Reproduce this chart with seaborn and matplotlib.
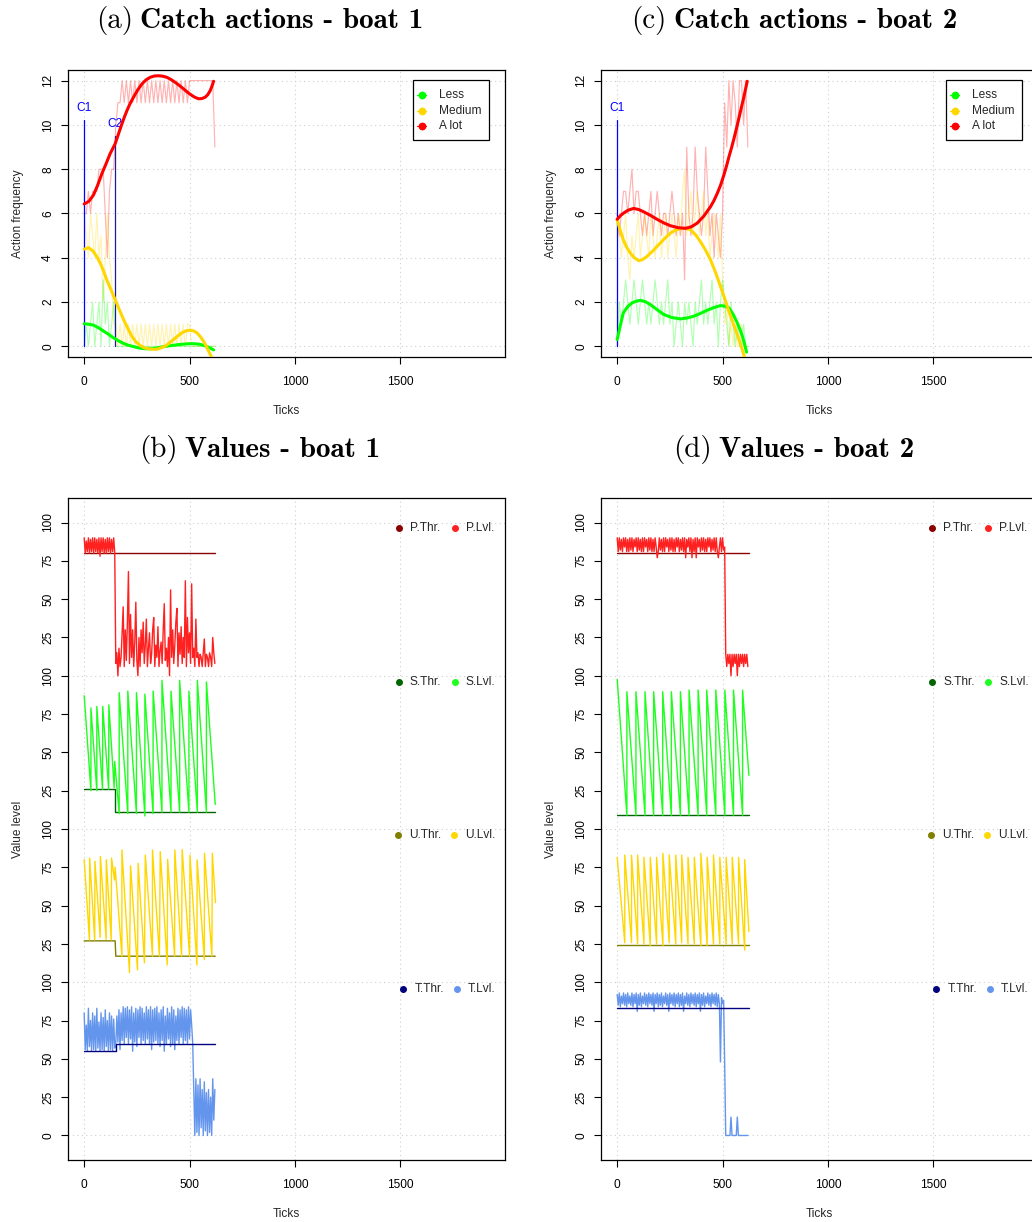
import matplotlib
matplotlib.use("Agg")
import matplotlib.pyplot as plt
from matplotlib.lines import Line2D
from matplotlib.patches import Rectangle
import numpy as np
import seaborn as sns

# ---------------------------------------------------------------- data
# raw action frequencies, sampled every 10 ticks (0 .. 620)
RAW_TICKS = list(range(0, 630, 10))

A_LESS = [0, 1, 0, 1, 2, 0, 1, 2, 0, 3, 1, 2, 0, 1, 2, 0,
          0, 0, 0, 0, 0, 0, 0, 0, 0, 0, 0, 0, 0, 0, 0, 0,
          0, 0, 0, 0, 0, 0, 0, 0, 0, 0, 0, 0, 0, 0, 0, 0,
          0, 0, 0, 0, 0, 0, 0, 0, 0, 0, 0, 0, 0, 0, 0]
A_MEDIUM = [6, 5, 4, 6, 5, 4, 6, 4, 5, 2, 4, 6, 4, 3, 1, 1,
            0, 1, 0, 1, 0, 1, 0, 1, 0, 1, 0, 1, 0, 1, 0, 1,
            0, 1, 0, 1, 0, 1, 0, 1, 0, 1, 0, 1, 0, 1, 0, 1,
            0, 1, 1, 0, 0, 0, 0, 0, 0, 0, 0, 0, 0, 0, 0]
A_ALOT = [6, 6, 7, 6, 7, 7, 7, 8, 8, 8, 6, 4, 7, 8, 8, 10,
          11, 11, 12, 11, 12, 11, 12, 11, 12, 11, 12, 11, 12, 11, 12, 11,
          12, 11, 12, 11, 12, 11, 12, 11, 12, 11, 12, 11, 12, 11, 12, 11,
          12, 11, 12, 12, 12, 12, 12, 12, 12, 12, 12, 12, 12, 12, 9]

C_LESS = [0, 2, 1, 2, 3, 2, 1, 2, 3, 2, 1, 2, 3, 2, 1, 2,
          1, 2, 3, 2, 1, 2, 1, 2, 3, 1, 2, 0, 1, 2, 1, 0,
          2, 1, 2, 1, 0, 2, 1, 2, 3, 1, 2, 1, 2, 3, 1, 2,
          0, 2, 3, 2, 1, 0, 2, 1, 0, 1, 0, 0, 1, 0, 0]
C_MEDIUM = [6, 5, 4, 5, 6, 4, 3, 5, 4, 5, 6, 4, 5, 6, 5, 4,
            6, 5, 4, 5, 6, 4, 5, 6, 4, 5, 6, 5, 4, 6, 5, 7,
            8, 5, 6, 7, 5, 6, 7, 5, 6, 7, 5, 6, 4, 5, 6, 5,
            4, 6, 3, 1, 2, 0, 1, 0, 1, 0, 0, 1, 0, 0, 0]
C_ALOT = [6, 5, 6, 7, 7, 6, 7, 8, 6, 7, 7, 6, 5, 6, 5, 6,
          7, 5, 6, 7, 6, 5, 6, 6, 5, 6, 7, 6, 5, 6, 5, 6,
          3, 9, 6, 5, 6, 9, 7, 6, 5, 6, 9, 7, 5, 6, 4, 6,
          5, 4, 6, 11, 9, 12, 10, 12, 11, 9, 12, 12, 10, 12, 9]

# smoothed trends (tick, value)
A_FIT_LESS_T = [0, 22, 44, 68, 92, 116, 139, 163, 187, 210, 234, 258, 282, 305, 329, 353,
                377, 400, 424, 448, 471, 495, 519, 535, 550, 566, 582, 598, 614]
A_FIT_LESS_V = [1.02, 1.00, 0.96, 0.84, 0.69, 0.54, 0.39, 0.25, 0.13, 0.05, -0.01, -0.07,
                -0.10, -0.11, -0.10, -0.06, -0.01, 0.02, 0.05, 0.08, 0.10, 0.12, 0.12, 0.11,
                0.09, 0.05, -0.01, -0.08, -0.16]
A_FIT_MED_T = [0, 21, 44, 60, 76, 92, 107, 127, 147, 167, 187, 207, 226, 246, 266, 285,
               305, 325, 345, 364, 384, 404, 424, 443, 463, 483, 503, 519, 535, 550, 566,
               578, 590, 606]
A_FIT_MED_V = [4.39, 4.46, 4.28, 4.05, 3.76, 3.40, 3.01, 2.56, 2.11, 1.65, 1.21, 0.81, 0.46,
               0.20, 0.04, -0.06, -0.11, -0.13, -0.13, -0.07, 0.01, 0.15, 0.31, 0.46, 0.61,
               0.70, 0.73, 0.70, 0.61, 0.45, 0.24, 0.03, -0.21, -0.51]
A_FIT_ALOT_T = [0, 22, 44, 64, 84, 104, 123, 147, 163, 179, 191, 203, 218, 234, 254, 274,
                293, 313, 333, 353, 373, 392, 412, 432, 452, 471, 491, 511, 527, 543, 558,
                574, 586, 598, 606, 614]
A_FIT_ALOT_V = [6.43, 6.55, 6.83, 7.28, 7.80, 8.25, 8.70, 9.15, 9.60, 10.05, 10.36, 10.65,
                10.97, 11.25, 11.58, 11.85, 12.03, 12.15, 12.21, 12.22, 12.20, 12.15, 12.05,
                11.92, 11.78, 11.63, 11.47, 11.33, 11.24, 11.18, 11.19, 11.25, 11.36, 11.55,
                11.74, 11.97]

C_FIT_LESS_T = [0, 15, 29, 50, 70, 90, 110, 133, 157, 189, 221, 260, 300, 331, 363, 395,
                427, 458, 490, 510, 530, 550, 570, 582, 594, 604, 614]
C_FIT_LESS_V = [0.31, 0.95, 1.51, 1.80, 1.96, 2.04, 2.08, 2.02, 1.89, 1.66, 1.44, 1.30,
                1.24, 1.28, 1.36, 1.49, 1.63, 1.75, 1.84, 1.82, 1.74, 1.45, 1.06, 0.78, 0.46,
                0.12, -0.26]
C_FIT_MED_T = [0, 15, 29, 45, 62, 82, 102, 121, 141, 165, 189, 220, 252, 280, 308, 328, 348,
               372, 395, 419, 443, 467, 490, 514, 538, 558, 578, 592, 605]
C_FIT_MED_V = [5.72, 5.22, 4.81, 4.48, 4.21, 4.00, 3.87, 3.92, 4.06, 4.27, 4.51, 4.82, 5.11,
               5.27, 5.33, 5.32, 5.26, 5.04, 4.73, 4.35, 3.91, 3.33, 2.71, 2.05, 1.36, 0.84,
               0.31, -0.10, -0.51]
C_FIT_ALOT_T = [0, 15, 29, 52, 78, 102, 125, 157, 189, 220, 252, 288, 324, 352, 379, 411,
                443, 459, 475, 491, 506, 518, 530, 542, 554, 570, 586, 602, 617]
C_FIT_ALOT_V = [5.74, 5.90, 6.01, 6.15, 6.23, 6.18, 6.08, 5.92, 5.74, 5.58, 5.45, 5.36,
                5.33, 5.40, 5.56, 5.88, 6.31, 6.58, 6.91, 7.29, 7.73, 8.12, 8.55, 8.95, 9.38,
                10.00, 10.65, 11.30, 11.97]

# change markers (label, tick, top of marker line, label height, colour)
A_CHANGES = [("C1", 0, 10.23, 10.75, "#0000FF"), ("C2", 147, 9.48, 10.05, "#1A1A9A")]
C_CHANGES = [("C1", 0, 10.23, 10.75, "#0000FF")]

# value levels sampled every 5 ticks (0 .. 620)
LVL_TICKS = list(range(0, 625, 5))

P_LVL_B = [90, 80, 88, 81, 90, 80, 89, 81, 90, 80, 90, 81, 89, 80, 90, 78, 90, 81, 90, 80,
           89, 80, 90, 81, 90, 80, 89, 81, 90, 80,
           8,
           15, 0, 18, 6, 12, 28, 45, 6, 30, 10, 35, 68, 8, 40, 12, 30, 6, 22, 48, 10,
           0, 25, 6, 30, 15, 35, 8, 20, 37, 6,
           18, 28, 8, 14, 30, 38, 6, 20, 12, 32, 6, 16, 22, 8, 30, 47, 10, 18, 6, 25,
           0, 56, 12, 30, 8, 20, 35, 44, 6, 28,
           14, 32, 8, 25, 12, 62, 6, 38, 15, 28, 8, 60, 12, 18, 6, 37, 12, 15, 6, 14,
           12, 6, 15, 24, 6, 14, 12, 6, 15, 12, 6, 25, 15, 8]
P_LVL_D = [90, 81, 90, 82, 89, 81, 90, 84, 90, 81, 89, 81, 90, 82, 90, 81, 89, 84, 90, 81,
           90, 82, 89, 81, 90, 81, 90, 84, 89, 81, 90, 82, 90, 81, 89, 81, 90, 84, 77, 81,
           90, 82, 89, 81, 90, 81, 90, 84, 89, 81, 90, 82, 90, 81, 89, 81, 90, 84, 90, 81,
           89, 82, 90, 81, 90, 77, 89, 84, 90, 81, 90, 77, 89, 81, 90, 77, 90, 84, 89, 81,
           90, 82, 90, 81, 89, 81, 90, 84, 90, 81, 89, 82, 90, 81, 90, 81, 77, 84, 90, 81,
           90, 82,
           84,
           14, 6, 14, 8, 14, 0, 14, 6, 14, 8, 14, 0, 14, 6, 14, 8, 14, 6, 14, 8, 14, 6]
T_LVL_B = [80, 56, 72, 55, 83, 58, 75, 55, 80, 56, 78, 55, 83, 57, 74, 55, 80, 56, 77, 55,
           82, 58, 75, 55, 80, 56, 78, 55, 76, 57,
           60,
           78, 61, 82, 56, 80, 62, 84, 60, 83, 64, 84, 60, 82, 63, 84, 55, 80, 61, 83, 58,
           82, 64, 84, 60, 83, 62, 80, 60, 84, 63, 82, 60, 84, 56, 82, 61, 83, 62, 84, 60,
           80, 58, 82, 62, 84, 55, 78, 60, 83, 63, 80, 58, 84, 60, 82, 56, 78, 62, 83, 60,
           82, 64, 84, 60, 83, 62, 82, 60, 84, 63, 82, 72, 60,
           30, 0, 37, 2, 33, 0, 37, 5, 30, 0, 35, 3, 28, 0, 30, 2, 25, 0, 37, 10, 30]
T_LVL_D = [92, 85, 93, 84, 91, 86, 93, 85, 92, 84, 93, 86, 91, 85, 93, 84, 92, 86, 93, 81,
           92, 85, 93, 84, 91, 86, 93, 85, 92, 84, 93, 86, 92, 85, 93, 81, 92, 86, 93, 84,
           92, 85, 93, 84, 91, 86, 93, 85, 92, 81, 93, 86, 92, 85, 93, 84, 92, 86, 93, 84,
           92, 85, 93, 81, 91, 86, 93, 85, 92, 84, 93, 86, 92, 85, 93, 84, 92, 86, 93, 81,
           92, 85, 93, 84, 91, 86, 93, 85, 92, 84, 93, 86, 92, 85, 93, 84, 92, 86,
           48, 90, 86, 88, 47, 0,
           0, 0, 0, 0, 12, 0, 0, 0, 0, 0, 12, 0, 0, 0, 0, 0, 0, 0, 0, 0, 0]

# saw-tooth levels as (tick, value) vertices
S_LVL_B_T = [0, 32, 32, 60, 60, 87, 88, 116, 117, 142, 145, 166, 166, 207, 207, 248, 248,
             288, 288, 327, 327, 369, 369, 412, 412, 453, 453, 497, 497, 537, 537, 580, 580,
             622]
S_LVL_B_V = [87, 25, 79, 25, 80, 26, 80, 26, 81, 27, 44, 10, 89, 10, 90, 10, 89, 8.5, 88,
             10, 90, 11, 97, 11, 90, 11, 97, 11, 90, 11, 97, 11, 96, 16]
S_LVL_D_T = [0, 46, 46, 89, 89, 132, 132, 173, 173, 216, 216, 257, 257, 300, 300, 341, 341,
             384, 384, 425, 425, 468, 468, 511, 511, 552, 552, 595, 595, 625]
S_LVL_D_V = [97.7, 9, 89.6, 9, 89.6, 9, 89.6, 9, 89.6, 9, 89.6, 9, 89.6, 9, 89.6, 9, 90.7,
             9, 90.7, 9, 90.7, 9, 90.7, 9, 90.7, 9, 90.7, 9, 90.7, 35]
U_LVL_B_T = [0, 25, 26, 50, 51, 76, 77, 104, 105, 128, 130, 144, 147, 179, 179, 215, 220,
             253, 256, 286, 290, 324, 324, 357, 361, 394, 396, 429, 430, 462, 465, 500, 502,
             535, 536, 570, 571, 606, 608, 623]
U_LVL_B_V = [80, 27.6, 81, 27.6, 79, 29.3, 82, 28, 80, 27.6, 81, 66.7, 75, 17, 86.3, 6.3,
             76, 8, 77.6, 12.7, 83, 17, 86.3, 17, 85.2, 11.3, 80.2, 17, 86.3, 17, 86.5, 17,
             83, 11.3, 79.8, 14.9, 84.1, 17, 84.1, 52]
U_LVL_D_T = [0, 36, 36, 68, 68, 97, 97, 127, 127, 157, 157, 187, 187, 217, 217, 247, 247,
             278, 278, 306, 306, 336, 336, 366, 366, 397, 397, 427, 427, 457, 457, 487, 487,
             517, 517, 546, 546, 576, 576, 605, 605, 625]
U_LVL_D_V = [81.5, 25.8, 83, 25.8, 83, 25, 83, 25, 81.5, 24, 81.5, 25, 81.5, 24, 84.1, 25.8,
             83, 25, 83, 25.8, 83, 25, 81.5, 25, 81.5, 24, 84.1, 24, 81.5, 25, 83, 25, 81.5,
             25, 81.5, 25, 81.5, 25, 81.5, 21, 80, 33]

# thresholds (tick, value)
P_THR_B = ([0, 622], [80, 80])
P_THR_D = ([0, 624], [80, 80])
S_THR_B = ([0, 147, 147, 622], [26, 26, 11, 11])
S_THR_D = ([0, 624], [9, 9])
U_THR_B = ([0, 147, 150, 622], [27, 27, 17, 17])
U_THR_D = ([0, 624], [24, 24])
T_THR_B = ([0, 150, 150, 622], [55, 55, 60, 60])
T_THR_D = ([0, 624], [83, 83])

BLOCK_TICKS = [0, 25, 50, 75, 100, 125, 150, 175, 200, 225, 250, 275, 300, 325, 350, 375, 400]
BLOCK_LABELS = ["0", "25", "50", "75", "100", "25", "50", "75", "100",
                "25", "50", "75", "100", "25", "50", "75", "100"]
ACTION_TICKS = [0, 2, 4, 6, 8, 10, 12]
X_TICKS = [0, 500, 1000, 1500]

# ---------------------------------------------------------------- style
GREEN, GOLD, RED = "#00FF00", "#FFD700", "#FF0000"
P_THR_C, P_LVL_C = "#8B0000", "#FF2020"
S_THR_C, S_LVL_C = "#006400", "#1EFF1E"
U_THR_C, U_LVL_C = "#808000", "#FFD700"
T_THR_C, T_LVL_C = "#000080", "#6495ED"

sns.set_style("white")
plt.rcParams["font.family"] = ["Liberation Sans", "DejaVu Sans"]
FS = 8.6

W, H = 1032, 1222
fig = plt.figure(figsize=(W / 100, H / 100), dpi=100)


def fx(x):
    return x / W


def fy(y):
    return 1 - y / H


def add_axes(left, top, right, bottom):
    return fig.add_axes([fx(left), fy(bottom), (right - left) / W, (bottom - top) / H])


def draw(ax, x, y, color, lw=1.0, alpha=1.0, z=2):
    sns.lineplot(x=list(x), y=list(y), ax=ax, color=color, linewidth=lw, alpha=alpha,
                 sort=False, estimator=None, zorder=z)


def dotted(ax, horiz, vert):
    for v in vert:
        ax.axvline(v, color="#cfcfcf", lw=0.8, ls=(0, (1, 3)), zorder=0)
    for h in horiz:
        ax.axhline(h, color="#cfcfcf", lw=0.8, ls=(0, (1, 3)), zorder=0)


def finish(ax, ylim, yticks, ylabels, ylabel):
    ax.set_xlim(-76.8, 1996.8)
    ax.set_ylim(*ylim)
    ax.set_xticks(X_TICKS)
    ax.set_xticklabels([str(t) for t in X_TICKS])
    ax.set_yticks(yticks)
    ax.set_yticklabels(ylabels)
    ax.tick_params(direction="out", length=5, width=0.8, labelsize=FS,
                   colors="black", left=True, bottom=True)
    ax.tick_params(axis="x", pad=8.4)
    ax.tick_params(axis="y", pad=5)
    for lbl in ax.get_yticklabels():
        lbl.set_rotation(90)
        lbl.set_va("center")
    ax.set_xlabel("Ticks", fontsize=FS, labelpad=12.5)
    ax.set_ylabel(ylabel, fontsize=FS, labelpad=13)
    for s in ax.spines.values():
        s.set_visible(True)
        s.set_color("black")
        s.set_linewidth(0.9)


def title(cx, base, tag, body, size=21):
    t1 = fig.text(0, fy(base), tag, fontfamily="cmr10", fontsize=size, va="baseline",
                  color="black")
    t2 = fig.text(0, fy(base), body, fontfamily="cmb10", fontsize=size, va="baseline",
                  color="black")
    r = fig.canvas.get_renderer()
    w1 = t1.get_window_extent(r).width
    w2 = t2.get_window_extent(r).width
    gap = size * 100 / 72 * 0.24
    x0 = cx - (w1 + gap + w2) / 2
    t1.set_x(fx(x0))
    t2.set_x(fx(x0 + w1 + gap))


def action_legend(left, top):
    fig.add_artist(Rectangle((fx(left), fy(top + 60)), 76 / W, 60 / H,
                             transform=fig.transFigure, facecolor="white",
                             edgecolor="black", lw=0.9, zorder=5))
    for dy, lab, col in [(15.3, "Less", GREEN), (30.7, "Medium", GOLD), (45.7, "A lot", RED)]:
        y = fy(top + dy)
        fig.add_artist(Line2D([fx(left + 4), fx(left + 13)], [y, y], color=col, lw=0.9,
                              transform=fig.transFigure, zorder=6))
        fig.add_artist(Line2D([fx(left + 8.5)], [y], marker="o", ms=4.6, color=col,
                              mec=col, transform=fig.transFigure, zorder=6))
        fig.text(fx(left + 26), y, lab, fontsize=FS, ha="left", va="center", zorder=6)


def value_legend(ax_left, rows):
    for y, d1, d2, n1, c1, n2, c2 in rows:
        for dx, col in ((d1, c1), (d2 + 45, c2)):
            fig.add_artist(Line2D([fx(ax_left + dx)], [fy(y)], marker="o", ms=4.0, color=col,
                                  mec=col, lw=0, transform=fig.transFigure, zorder=6))
        fig.text(fx(ax_left + d1 + 11), fy(y), n1, fontsize=FS, ha="left", va="center")
        fig.text(fx(ax_left + d2 + 56), fy(y), n2, fontsize=FS, ha="left", va="center")


# ---------------------------------------------------------------- actions panels
def action_panel(ax, less, med, alot, fits, changes):
    dotted(ax, ACTION_TICKS, X_TICKS)
    for vals, col in ((alot, RED), (med, GOLD), (less, GREEN)):
        draw(ax, RAW_TICKS, vals, col, lw=0.85, alpha=0.3, z=2)
    for name, t, top, ty, col in changes:
        draw(ax, [t, t], [0, top], col, lw=0.9, z=3)
        ax.text(t, ty, name, color="#0000FF", fontsize=FS, ha="center", va="center")
    for (ft, fv), col in zip(fits, (GREEN, GOLD, RED)):
        draw(ax, ft, fv, col, lw=2.2, z=4)
    finish(ax, (-0.48, 12.48), ACTION_TICKS, [str(t) for t in ACTION_TICKS],
           "Action frequency")


ax_a = add_axes(68, 70, 505, 357)
action_panel(ax_a, A_LESS, A_MEDIUM, A_ALOT,
             [(A_FIT_LESS_T, A_FIT_LESS_V), (A_FIT_MED_T, A_FIT_MED_V),
              (A_FIT_ALOT_T, A_FIT_ALOT_V)], A_CHANGES)
ax_c = add_axes(601, 70, 1038, 357)
action_panel(ax_c, C_LESS, C_MEDIUM, C_ALOT,
             [(C_FIT_LESS_T, C_FIT_LESS_V), (C_FIT_MED_T, C_FIT_MED_V),
              (C_FIT_ALOT_T, C_FIT_ALOT_V)], C_CHANGES)
action_legend(413, 80)
action_legend(946, 80)


# ---------------------------------------------------------------- values panels
def shift(vals, off):
    return list(np.asarray(vals, dtype=float) + off)


def value_panel(ax, p_lvl, p_thr, s_lvl, s_thr, u_lvl, u_thr, t_lvl, t_thr):
    dotted(ax, [0, 100, 200, 300, 400], X_TICKS)
    draw(ax, p_thr[0], shift(p_thr[1], 300), P_THR_C, lw=1.0)
    draw(ax, LVL_TICKS, shift(p_lvl, 300), P_LVL_C, lw=1.0, z=3)
    draw(ax, s_thr[0], shift(s_thr[1], 200), S_THR_C, lw=1.0)
    draw(ax, s_lvl[0], shift(s_lvl[1], 200), S_LVL_C, lw=1.0, z=3)
    draw(ax, u_thr[0], shift(u_thr[1], 100), U_THR_C, lw=1.0)
    draw(ax, u_lvl[0], shift(u_lvl[1], 100), U_LVL_C, lw=1.0, z=3)
    draw(ax, t_thr[0], t_thr[1], T_THR_C, lw=1.0, z=4)
    draw(ax, LVL_TICKS, t_lvl, T_LVL_C, lw=1.0, z=3)
    finish(ax, (-16, 416), BLOCK_TICKS, BLOCK_LABELS, "Value level")


ax_b = add_axes(68, 498, 505, 1160)
value_panel(ax_b, P_LVL_B, P_THR_B, (S_LVL_B_T, S_LVL_B_V), S_THR_B,
            (U_LVL_B_T, U_LVL_B_V), U_THR_B, T_LVL_B, T_THR_B)
ax_d = add_axes(601, 498, 1038, 1160)
value_panel(ax_d, P_LVL_D, P_THR_D, (S_LVL_D_T, S_LVL_D_V), S_THR_D,
            (U_LVL_D_T, U_LVL_D_V), U_THR_D, T_LVL_D, T_THR_D)

LEGEND_ROWS = [
    (528.5, 331, 342, "P.Thr.", P_THR_C, "P.Lvl.", P_LVL_C),
    (682.0, 331, 342, "S.Thr.", S_THR_C, "S.Lvl.", S_LVL_C),
    (835.0, 329.7, 340.7, "U.Thr.", U_THR_C, "U.Lvl.", U_LVL_C),
    (988.5, 335.3, 343.7, "T.Thr.", T_THR_C, "T.Lvl.", T_LVL_C),
]
value_legend(68, LEGEND_ROWS)
value_legend(601, LEGEND_ROWS)

# ---------------------------------------------------------------- titles
title(259.5, 28.3, "(a)", "Catch actions - boat 1")
title(794, 28.3, "(c)", "Catch actions - boat 2")
title(260, 456.7, "(b)", "Values - boat 1")
title(794, 456.7, "(d)", "Values - boat 2")

fig.savefig("out.png", dpi=100)
